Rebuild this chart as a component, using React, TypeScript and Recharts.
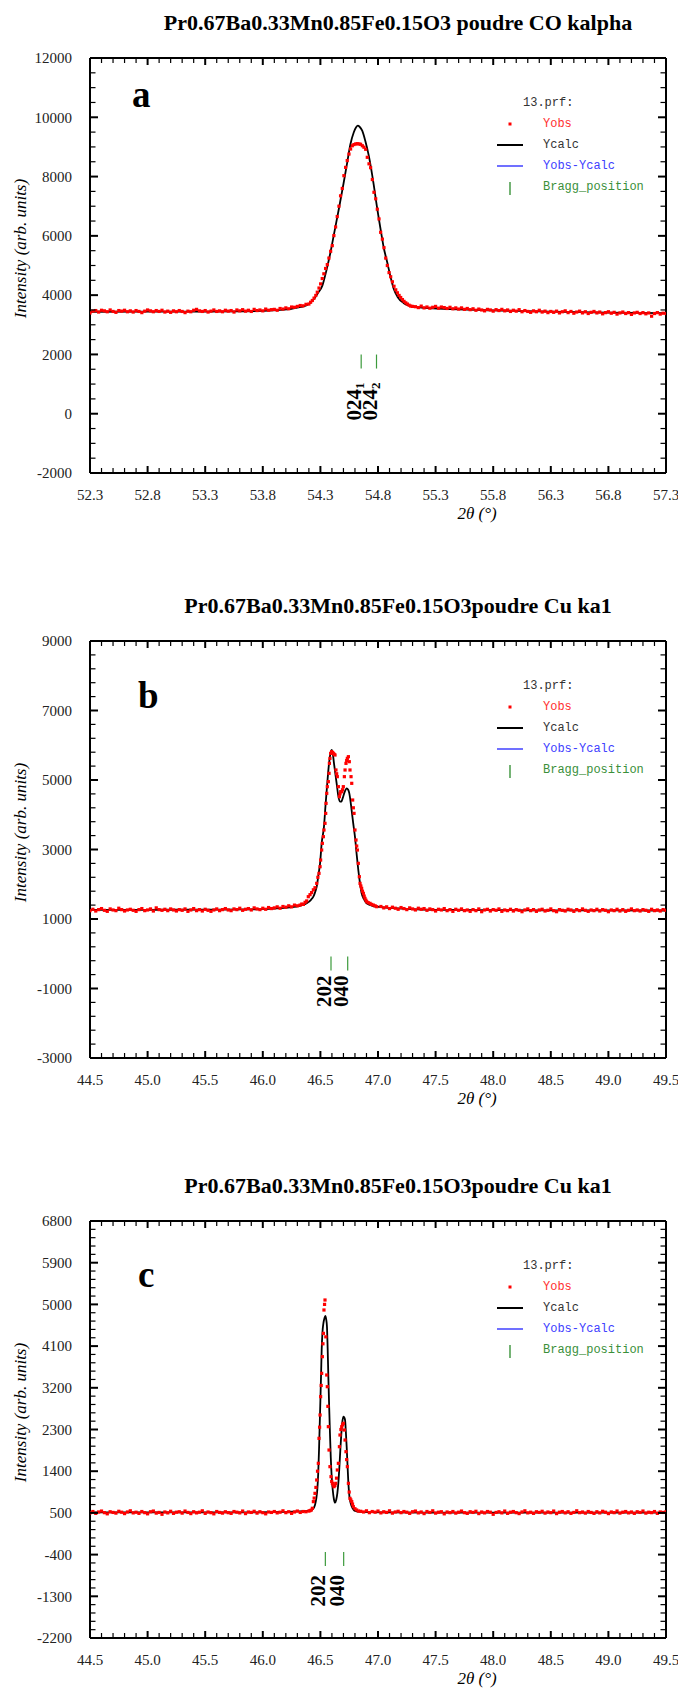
import React from "react";
import { ComposedChart, Line, Scatter, XAxis, YAxis } from "recharts";

const SERIF = '"Liberation Serif", "Times New Roman", serif';
const MONO = '"Liberation Mono", "Courier New", monospace';

// background points are on the instrument grid
const BG_STEP = 0.025;

// ---------- panel a : Co K-alpha ----------
const A_TITLE = "Pr0.67Ba0.33Mn0.85Fe0.15O3 poudre CO kalpha";
const A_X_LABELS = [52.3, 52.8, 53.3, 53.8, 54.3, 54.8, 55.3, 55.8, 56.3, 56.8, 57.3];
const A_Y_LABELS = [-2000, 0, 2000, 4000, 6000, 8000, 10000, 12000];
const A_OBS_LEFT_START = 52.3;
const A_OBS_LEFT = [
  3400, 3460, 3480, 3430, 3490, 3470, 3440, 3500, 3450, 3420, 3480, 3460, 3490, 3440, 3470, 3430,
  3480, 3450, 3410, 3460, 3500, 3470, 3440, 3480, 3450, 3490, 3430, 3460, 3420, 3470, 3440, 3480,
  3450, 3410, 3460, 3440, 3490, 3520, 3470, 3450, 3480, 3430, 3460, 3500, 3450, 3470, 3440, 3490,
  3460, 3480, 3430, 3500, 3470, 3510, 3460, 3490, 3450, 3520, 3480, 3500, 3470, 3530, 3490, 3510,
  3520, 3490, 3550, 3530, 3570, 3540, 3600, 3590, 3620, 3650, 3640, 3690,
];
const A_OBS_PEAK: [number, number][] = [
  [54.2, 3700], [54.215, 3760], [54.23, 3820], [54.245, 3900], [54.26, 3990], [54.273, 4100],
  [54.288, 4240], [54.302, 4380], [54.316, 4560], [54.33, 4720], [54.345, 4900], [54.36, 5030],
  [54.374, 5250], [54.389, 5480], [54.403, 5670], [54.417, 6010], [54.432, 6300], [54.446, 6650],
  [54.461, 7000], [54.475, 7350], [54.49, 7600], [54.504, 8030], [54.519, 8310], [54.533, 8540],
  [54.548, 8760], [54.562, 8930], [54.577, 9040], [54.591, 9080], [54.606, 9100], [54.62, 9110],
  [54.635, 9100], [54.649, 9090], [54.664, 9040], [54.678, 8990], [54.693, 8920], [54.707, 8650],
  [54.722, 8430], [54.736, 8300], [54.751, 7900], [54.765, 7470], [54.78, 7250], [54.794, 6900],
  [54.809, 6570], [54.823, 6120], [54.838, 5890], [54.852, 5600], [54.867, 5250], [54.881, 5000],
  [54.896, 4760], [54.91, 4620], [54.925, 4450], [54.939, 4300], [54.954, 4180], [54.968, 4080],
  [54.983, 3990], [54.997, 3920], [55.012, 3850], [55.026, 3790], [55.041, 3740], [55.055, 3700],
  [55.07, 3660], [55.084, 3630], [55.099, 3620],
];
const A_OBS_RIGHT_START = 55.125;
const A_OBS_RIGHT = [
  3610, 3580, 3630, 3570, 3600, 3560, 3590, 3620, 3560, 3600, 3580, 3550, 3590, 3540, 3570, 3530,
  3570, 3520, 3550, 3510, 3540, 3490, 3530, 3500, 3470, 3520, 3500, 3460, 3510, 3480, 3520, 3470,
  3500, 3450, 3490, 3460, 3510, 3440, 3480, 3450, 3420, 3470, 3440, 3490, 3430, 3460, 3410, 3450,
  3420, 3460, 3400, 3440, 3470, 3410, 3450, 3390, 3430, 3460, 3400, 3440, 3380, 3420, 3450, 3400,
  3430, 3370, 3410, 3440, 3390, 3420, 3360, 3400, 3430, 3380, 3410, 3350, 3400, 3420, 3380, 3410,
  3370, 3400, 3290, 3380, 3410, 3360, 3390, 3380,
];
const A_CALC: [number, number][] = [
  [52.3, 3440], [52.8, 3445], [53.3, 3445], [53.6, 3455], [53.8, 3470], [53.95, 3500], [54.05, 3540],
  [54.13, 3600], [54.2, 3700], [54.244, 3870], [54.28, 4080], [54.317, 4320], [54.35, 4800],
  [54.388, 5455], [54.42, 6100], [54.46, 6907], [54.5, 7750], [54.533, 8482], [54.56, 9080],
  [54.59, 9494], [54.61, 9660], [54.625, 9716], [54.64, 9680], [54.663, 9548], [54.69, 9200],
  [54.72, 8705], [54.764, 7693], [54.79, 7000], [54.822, 6232], [54.85, 5600], [54.88, 5109],
  [54.91, 4600], [54.937, 4208], [54.97, 3940], [55.024, 3730], [55.07, 3650], [55.11, 3610],
  [55.2, 3575], [55.43, 3530], [55.8, 3485], [56.3, 3445], [56.8, 3410], [57.3, 3395],
];
const A_BRAGG = [
  { x: 54.654, y: 1760, hkl: "024", sub: "1" },
  { x: 54.787, y: 1760, hkl: "024", sub: "2" },
];

// ---------- panel b : Cu Ka1 ----------
const B_TITLE = "Pr0.67Ba0.33Mn0.85Fe0.15O3poudre Cu ka1";
const B_X_LABELS = [44.5, 45.0, 45.5, 46.0, 46.5, 47.0, 47.5, 48.0, 48.5, 49.0, 49.5];
const B_Y_LABELS = [-3000, -1000, 1000, 3000, 5000, 7000, 9000];
const B_OBS_LEFT_START = 44.5;
const B_OBS_LEFT = [
  1240, 1280, 1230, 1270, 1300, 1250, 1220, 1290, 1260, 1240, 1310, 1270, 1230, 1260, 1280, 1250,
  1220, 1270, 1300, 1240, 1260, 1290, 1230, 1320, 1270, 1250, 1280, 1240, 1290, 1260, 1230, 1270,
  1250, 1290, 1220, 1260, 1300, 1240, 1270, 1230, 1280, 1250, 1220, 1260, 1290, 1240, 1270, 1300,
  1260, 1240, 1290, 1270, 1310, 1250, 1280, 1300, 1260, 1320, 1290, 1270, 1310, 1280, 1330, 1300,
  1320, 1350, 1310, 1360, 1340, 1380, 1350, 1400,
];
const B_OBS_PEAK: [number, number][] = [
  [46.3, 1380], [46.323, 1400], [46.338, 1430], [46.352, 1420], [46.367, 1480], [46.381, 1520],
  [46.395, 1642], [46.41, 1700], [46.424, 1760], [46.439, 1840], [46.453, 1900], [46.468, 2026],
  [46.478, 2200], [46.488, 2314], [46.497, 2505], [46.502, 2697], [46.511, 2985], [46.517, 3177],
  [46.526, 3369], [46.531, 3561], [46.54, 3753], [46.546, 4040], [46.549, 4328], [46.555, 4616],
  [46.56, 4808], [46.569, 4952], [46.575, 5192], [46.578, 5479], [46.583, 5623], [46.589, 5767],
  [46.598, 5815], [46.605, 5790], [46.612, 5767], [46.62, 5740], [46.627, 5719], [46.635, 5288],
  [46.641, 5180], [46.647, 5096], [46.656, 4808], [46.665, 4520], [46.67, 4600], [46.676, 4664],
  [46.685, 4664], [46.692, 4720], [46.699, 4808], [46.708, 5096], [46.714, 5288], [46.722, 5479],
  [46.728, 5560], [46.734, 5623], [46.743, 5671], [46.751, 5527], [46.757, 5288], [46.766, 5096],
  [46.772, 4904], [46.78, 4424], [46.786, 4200], [46.792, 4040], [46.8, 3561], [46.809, 3273],
  [46.815, 3100], [46.821, 2985], [46.829, 2601], [46.838, 2218], [46.844, 2026], [46.851, 1950],
  [46.858, 1882], [46.865, 1800], [46.873, 1738], [46.88, 1660], [46.887, 1594], [46.895, 1540],
  [46.902, 1498], [46.915, 1470], [46.931, 1450], [46.945, 1420], [46.96, 1400], [46.975, 1380],
  [46.989, 1354],
];
const B_OBS_RIGHT_START = 47.025;
const B_OBS_RIGHT = [
  1360, 1320, 1350, 1300, 1340, 1310, 1280, 1330, 1300, 1270, 1320, 1290, 1260, 1310, 1280, 1300,
  1250, 1290, 1270, 1230, 1280, 1260, 1300, 1240, 1270, 1220, 1280, 1250, 1290, 1240, 1260, 1220,
  1270, 1240, 1290, 1210, 1260, 1280, 1230, 1270, 1250, 1290, 1220, 1260, 1240, 1280, 1230, 1270,
  1250, 1210, 1260, 1290, 1240, 1270, 1220, 1260, 1280, 1230, 1250, 1290, 1240, 1210, 1270, 1250,
  1230, 1280, 1260, 1220, 1270, 1240, 1290, 1250, 1220, 1260, 1240, 1280, 1230, 1270, 1250, 1210,
  1260, 1240, 1280, 1230, 1270, 1220, 1250, 1290, 1240, 1260, 1230, 1270, 1250, 1220, 1280, 1240,
  1260, 1230, 1270, 1250,
];
const B_CALC: [number, number][] = [
  [44.5, 1260], [45.0, 1265], [45.5, 1270], [45.9, 1278], [46.1, 1300], [46.236, 1335], [46.32, 1380],
  [46.381, 1450], [46.42, 1560], [46.439, 1642], [46.455, 1780], [46.468, 1930], [46.482, 2250],
  [46.497, 2601], [46.511, 3177], [46.531, 3657], [46.545, 4300], [46.555, 4712], [46.575, 5479],
  [46.59, 5800], [46.598, 5863], [46.608, 5750], [46.618, 5479], [46.641, 4904], [46.655, 4550],
  [46.67, 4376], [46.682, 4380], [46.693, 4472], [46.71, 4650], [46.728, 4760], [46.741, 4720],
  [46.751, 4616], [46.771, 4136], [46.785, 3750], [46.8, 3369], [46.815, 2850], [46.829, 2410],
  [46.845, 2000], [46.858, 1738], [46.88, 1560], [46.902, 1450], [46.95, 1380], [46.989, 1354],
  [47.1, 1320], [47.336, 1278], [47.625, 1262], [48.0, 1255], [48.5, 1250], [49.0, 1248], [49.5, 1245],
];
const B_BRAGG = [
  { x: 46.592, y: -280, hkl: "202" },
  { x: 46.737, y: -280, hkl: "040" },
];

// ---------- panel c : Cu Ka1 ----------
const C_TITLE = "Pr0.67Ba0.33Mn0.85Fe0.15O3poudre Cu ka1";
const C_X_LABELS = [44.5, 45.0, 45.5, 46.0, 46.5, 47.0, 47.5, 48.0, 48.5, 49.0, 49.5];
const C_Y_LABELS = [-2200, -1300, -400, 500, 1400, 2300, 3200, 4100, 5000, 5900, 6800];
const C_OBS_LEFT_START = 44.5;
const C_OBS_LEFT = [
  500, 530, 490, 520, 540, 505, 480, 525, 510, 495, 535, 515, 485, 520, 545, 500,
  515, 490, 530, 505, 480, 525, 540, 495, 510, 470, 520, 500, 535, 490, 515, 525,
  495, 540, 510, 485, 525, 500, 515, 545, 490, 520, 505, 480, 530, 510, 495, 525,
  505, 490, 530, 515, 500, 540, 485, 520, 510, 535, 495, 525, 505, 480, 520, 510,
  530, 500, 515, 545, 505, 525, 490, 520, 540, 510, 530, 525,
];
const C_OBS_PEAK: [number, number][] = [
  [46.4, 540], [46.41, 550], [46.42, 560], [46.43, 600], [46.439, 743], [46.446, 820], [46.453, 922],
  [46.461, 1050], [46.468, 1210], [46.475, 1400], [46.482, 1570], [46.488, 2109], [46.493, 2350],
  [46.497, 2613], [46.502, 3009], [46.507, 3250], [46.511, 3512], [46.517, 3872], [46.522, 4150],
  [46.526, 4375], [46.531, 4879], [46.536, 5000], [46.54, 5095], [46.547, 4300], [46.555, 3476],
  [46.56, 3224], [46.565, 2800], [46.569, 2361], [46.575, 1857], [46.583, 1498], [46.592, 1282],
  [46.598, 1180], [46.604, 1138], [46.611, 1100], [46.618, 1066], [46.626, 1090], [46.633, 1138],
  [46.64, 1250], [46.647, 1426], [46.656, 1570], [46.665, 1929], [46.67, 2181], [46.678, 2300],
  [46.685, 2361], [46.692, 2400], [46.699, 2433], [46.708, 2289], [46.714, 2073], [46.722, 1821],
  [46.728, 1650], [46.734, 1498], [46.743, 1138], [46.75, 950], [46.757, 814], [46.764, 780],
  [46.772, 743], [46.779, 690], [46.786, 635], [46.8, 590], [46.815, 563], [46.83, 540],
];
const C_OBS_RIGHT_START = 46.85;
const C_OBS_RIGHT = [
  535, 520, 545, 505, 530, 515, 540, 500, 525, 510, 545, 495, 520, 535, 505, 530,
  515, 490, 525, 540, 500, 520, 485, 530, 510, 545, 495, 515, 525, 480, 520, 505,
  530, 495, 515, 540, 505, 490, 525, 510, 535, 485, 520, 500, 530, 515, 470, 510,
  525, 500, 540, 490, 515, 530, 505, 485, 520, 545, 500, 515, 490, 525, 510, 535,
  495, 520, 505, 540, 485, 515, 530, 500, 525, 490, 510, 545, 505, 520, 495, 530,
  510, 490, 525, 500, 535, 515, 485, 520, 505, 540, 495, 515, 530, 500, 520, 490,
  525, 510, 540, 495, 515, 505, 530, 490, 520, 510, 525,
];
const C_CALC: [number, number][] = [
  [44.5, 510], [45.0, 512], [45.5, 512], [45.9, 512], [46.2, 520], [46.41, 548], [46.435, 580],
  [46.453, 670], [46.465, 820], [46.473, 994], [46.481, 1350], [46.488, 1858], [46.494, 2400],
  [46.5, 2937], [46.506, 3500], [46.511, 4016], [46.518, 4400], [46.526, 4591], [46.535, 4700],
  [46.543, 4750], [46.55, 4680], [46.557, 4519], [46.563, 4050], [46.569, 3440], [46.576, 2800],
  [46.583, 2217], [46.59, 1700], [46.598, 1282], [46.607, 1000], [46.617, 800], [46.627, 721],
  [46.637, 780], [46.647, 922], [46.656, 1150], [46.665, 1498], [46.674, 1900], [46.682, 2217],
  [46.69, 2450], [46.699, 2577], [46.707, 2560], [46.714, 2505], [46.721, 2250], [46.728, 1930],
  [46.736, 1500], [46.743, 1138], [46.752, 850], [46.763, 706], [46.78, 600], [46.8, 541],
  [46.85, 520], [47.046, 512], [47.625, 505], [48.5, 505], [49.5, 505],
];
const C_BRAGG = [
  { x: 46.543, y: -495, hkl: "202" },
  { x: 46.702, y: -495, hkl: "040" },
];

// ---------- layout ----------
const W = 678;
const PLOT_TOP = 58;
const BOTTOM_AREA = 51;
const LEFT_W = 90;
const RIGHT_W = 12;
const AXIS_LINE = { stroke: "#000", strokeWidth: 2 };

type Pt = { x: number; y: number };
type BraggMark = { x: number; y: number; hkl: string; sub?: string };

function gridPoints(start: number, values: number[]): Pt[] {
  return values.map((y, i) => ({ x: +(start + i * BG_STEP).toFixed(4), y }));
}

function toPoints(list: [number, number][]): Pt[] {
  return list.map(([x, y]) => ({ x, y }));
}

function tickList(labels: number[], minor: number) {
  const first = labels[0];
  const last = labels[labels.length - 1];
  const n = Math.round((last - first) / minor);
  return Array.from({ length: n + 1 }, (_, i) => +(first + i * minor).toFixed(4));
}

const isMajor = (labels: number[], v: number) => labels.some((l) => Math.abs(l - v) < 1e-6);

type PanelProps = {
  top: number;
  height: number;
  title: string;
  letter: string;
  letterX: number;
  letterDy: number;
  xLabels: number[];
  xMinor: number;
  yLabels: number[];
  yMinor: number;
  obs: Pt[];
  calc: Pt[];
  bragg: BraggMark[];
  hklGap: number;
};

function Panel({
  top,
  height,
  title,
  letter,
  letterX,
  letterDy,
  xLabels,
  xMinor,
  yLabels,
  yMinor,
  obs,
  calc,
  bragg,
  hklGap,
}: PanelProps) {
  const xTicks = tickList(xLabels, xMinor);
  const yTicks = tickList(yLabels, yMinor);
  const xDomain = [xLabels[0], xLabels[xLabels.length - 1]];
  const yDomain = [yLabels[0], yLabels[yLabels.length - 1]];
  const plotBottom = height - BOTTOM_AREA;
  const plotMid = (PLOT_TOP + plotBottom) / 2;

  const bottomTick = (p: any) => {
    const major = isMajor(xLabels, p.payload.value);
    return (
      <g>
        <line x1={p.x} x2={p.x} y1={p.y} y2={p.y - (major ? 7 : 5)} stroke="#000" strokeWidth={major ? 2 : 1.2} />
        {major ? (
          <text x={p.x} y={p.y + 27} textAnchor="middle" fontFamily={SERIF} fontSize={15} fill="#222">
            {Number(p.payload.value).toFixed(1)}
          </text>
        ) : null}
      </g>
    );
  };
  const topTick = (p: any) => {
    const major = isMajor(xLabels, p.payload.value);
    return <line x1={p.x} x2={p.x} y1={p.y} y2={p.y + (major ? 7 : 5)} stroke="#000" strokeWidth={major ? 2 : 1.2} />;
  };
  const leftTick = (p: any) => {
    const major = isMajor(yLabels, p.payload.value);
    return (
      <g>
        <line x1={p.x} x2={p.x + (major ? 8 : 5.5)} y1={p.y} y2={p.y} stroke="#000" strokeWidth={major ? 2 : 1.2} />
        {major ? (
          <text x={p.x - 18} y={p.y} dy="0.35em" textAnchor="end" fontFamily={SERIF} fontSize={15} fill="#222">
            {p.payload.value}
          </text>
        ) : null}
      </g>
    );
  };
  const rightTick = (p: any) => {
    const major = isMajor(yLabels, p.payload.value);
    return <line x1={p.x} x2={p.x - (major ? 8 : 5.5)} y1={p.y} y2={p.y} stroke="#000" strokeWidth={major ? 2 : 1.2} />;
  };

  const obsShape = (p: any) => <rect x={p.cx - 1.6} y={p.cy - 1.6} width={3.2} height={3.2} fill="#ff0000" />;
  const braggShape = (p: any) => {
    const m = p.payload as BraggMark;
    const tx = p.cx - 7;
    const ty = p.cy + 7 + hklGap;
    return (
      <g>
        <line x1={p.cx} x2={p.cx} y1={p.cy - 7} y2={p.cy + 7} stroke="#3c9a3c" strokeWidth={1.2} />
        <text
          transform={`translate(${tx},${ty}) rotate(-90)`}
          textAnchor="end"
          dominantBaseline="central"
          fontFamily={SERIF}
          fontWeight="bold"
          fontSize={21}
          fill="#000"
        >
          {m.hkl}
          {m.sub ? (
            <tspan fontSize={13} dy={5}>
              {m.sub}
            </tspan>
          ) : null}
        </text>
      </g>
    );
  };

  const legendY = PLOT_TOP + 45;

  return (
    <div style={{ position: "absolute", left: 0, top, width: W, height }}>
      <ComposedChart width={W} height={height} margin={{ top: 0, right: 0, bottom: 0, left: 0 }}>
        <XAxis
          xAxisId="bottom"
          dataKey="x"
          type="number"
          domain={xDomain}
          ticks={xTicks}
          interval={0}
          height={BOTTOM_AREA}
          tickSize={0}
          tickMargin={0}
          tickLine={false}
          axisLine={AXIS_LINE}
          tick={bottomTick}
          allowDataOverflow
        />
        <XAxis
          xAxisId="top"
          orientation="top"
          dataKey="x"
          type="number"
          domain={xDomain}
          ticks={xTicks}
          interval={0}
          height={PLOT_TOP}
          tickSize={0}
          tickMargin={0}
          tickLine={false}
          axisLine={AXIS_LINE}
          tick={topTick}
          allowDataOverflow
        />
        <YAxis
          yAxisId="left"
          dataKey="y"
          type="number"
          domain={yDomain}
          ticks={yTicks}
          interval={0}
          width={LEFT_W}
          tickSize={0}
          tickMargin={0}
          tickLine={false}
          axisLine={AXIS_LINE}
          tick={leftTick}
          allowDataOverflow
        />
        <YAxis
          yAxisId="right"
          orientation="right"
          dataKey="y"
          type="number"
          domain={yDomain}
          ticks={yTicks}
          interval={0}
          width={RIGHT_W}
          tickSize={0}
          tickMargin={0}
          tickLine={false}
          axisLine={AXIS_LINE}
          tick={rightTick}
          allowDataOverflow
        />
        <Scatter xAxisId="bottom" yAxisId="left" data={obs} dataKey="y" shape={obsShape} isAnimationActive={false} />
        <Line
          xAxisId="bottom"
          yAxisId="left"
          data={calc}
          dataKey="y"
          type="monotone"
          stroke="#000"
          strokeWidth={1.8}
          dot={false}
          activeDot={false}
          isAnimationActive={false}
        />
        <Scatter xAxisId="bottom" yAxisId="left" data={bragg} dataKey="y" shape={braggShape} isAnimationActive={false} />
      </ComposedChart>

      <svg
        width={W}
        height={height}
        style={{ position: "absolute", left: 0, top: 0, pointerEvents: "none", overflow: "visible" }}
      >
        <text x={398} y={PLOT_TOP - 28} textAnchor="middle" fontFamily={SERIF} fontWeight="bold" fontSize={22} fill="#000">
          {title}
        </text>
        <text x={letterX} y={PLOT_TOP + letterDy} fontFamily={SERIF} fontWeight="bold" fontSize={37} fill="#000">
          {letter}
        </text>
        <text
          transform={`translate(20,${plotMid - 17}) rotate(-90)`}
          textAnchor="middle"
          dominantBaseline="central"
          fontFamily={SERIF}
          fontStyle="italic"
          fontSize={17}
          fill="#000"
        >
          Intensity (arb. units)
        </text>
        <text x={477} y={plotBottom + 46} textAnchor="middle" fontFamily={SERIF} fontStyle="italic" fontSize={17} fill="#000">
          2θ (°)
        </text>

        <g fontFamily={MONO} fontSize={12}>
          <text x={523} y={legendY} dominantBaseline="central" fill="#333">
            13.prf:
          </text>
          <rect x={508.5} y={legendY + 19.5} width={3} height={3} fill="#ff0000" />
          <text x={543} y={legendY + 21} dominantBaseline="central" fill="#ff3030">
            Yobs
          </text>
          <line x1={497} x2={523} y1={legendY + 42} y2={legendY + 42} stroke="#000" strokeWidth={2} />
          <text x={543} y={legendY + 42} dominantBaseline="central" fill="#333">
            Ycalc
          </text>
          <line x1={497} x2={523} y1={legendY + 63} y2={legendY + 63} stroke="#7070ff" strokeWidth={2} />
          <text x={543} y={legendY + 63} dominantBaseline="central" fill="#4040ff">
            Yobs-Ycalc
          </text>
          <line x1={510} x2={510} y1={legendY + 79} y2={legendY + 92} stroke="#2a8a2a" strokeWidth={1.3} />
          <text x={543} y={legendY + 84} dominantBaseline="central" fill="#3a8f3a">
            Bragg_position
          </text>
        </g>
      </svg>
    </div>
  );
}

export default function App() {
  const obsA = [...gridPoints(A_OBS_LEFT_START, A_OBS_LEFT), ...toPoints(A_OBS_PEAK), ...gridPoints(A_OBS_RIGHT_START, A_OBS_RIGHT)];
  const obsB = [...gridPoints(B_OBS_LEFT_START, B_OBS_LEFT), ...toPoints(B_OBS_PEAK), ...gridPoints(B_OBS_RIGHT_START, B_OBS_RIGHT)];
  const obsC = [...gridPoints(C_OBS_LEFT_START, C_OBS_LEFT), ...toPoints(C_OBS_PEAK), ...gridPoints(C_OBS_RIGHT_START, C_OBS_RIGHT)];

  return (
    <div style={{ position: "absolute", left: 0, top: 0, width: W, height: 1689, background: "#fff", overflow: "hidden" }}>
      <Panel
        top={0}
        height={524}
        title={A_TITLE}
        letter="a"
        letterX={132}
        letterDy={49}
        xLabels={A_X_LABELS}
        xMinor={0.1}
        yLabels={A_Y_LABELS}
        yMinor={500}
        obs={obsA}
        calc={toPoints(A_CALC)}
        bragg={A_BRAGG}
        hklGap={14}
      />
      <Panel
        top={583}
        height={526}
        title={B_TITLE}
        letter="b"
        letterX={138}
        letterDy={67}
        xLabels={B_X_LABELS}
        xMinor={0.1}
        yLabels={B_Y_LABELS}
        yMinor={400}
        obs={obsB}
        calc={toPoints(B_CALC)}
        bragg={B_BRAGG}
        hklGap={5}
      />
      <Panel
        top={1163}
        height={526}
        title={C_TITLE}
        letter="c"
        letterX={138}
        letterDy={66}
        xLabels={C_X_LABELS}
        xMinor={0.1}
        yLabels={C_Y_LABELS}
        yMinor={180}
        obs={obsC}
        calc={toPoints(C_CALC)}
        bragg={C_BRAGG}
        hklGap={9}
      />
    </div>
  );
}
